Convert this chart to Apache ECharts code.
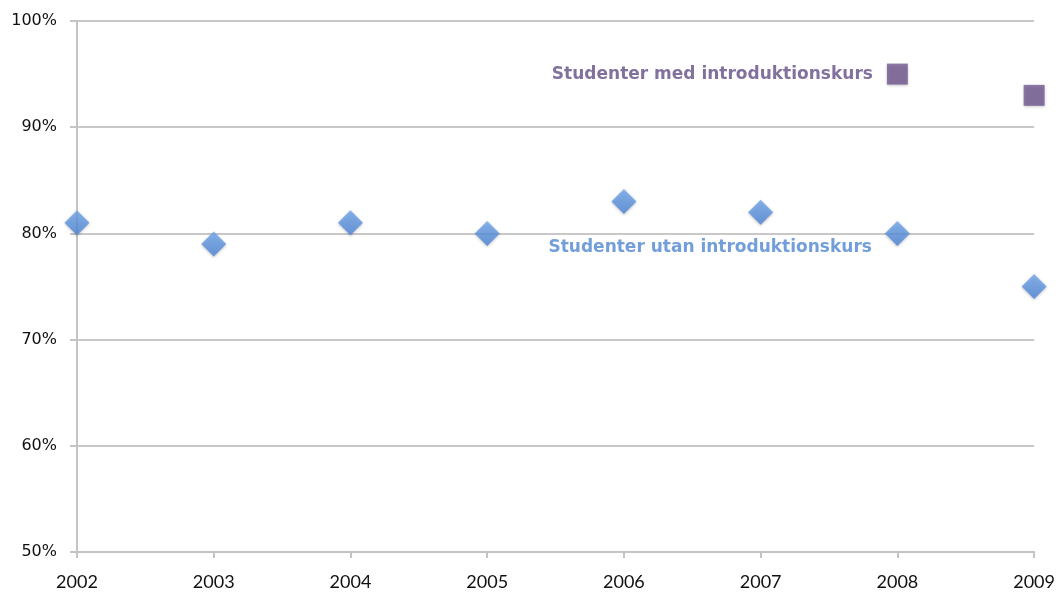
<!DOCTYPE html>
<html>
<head>
<meta charset="utf-8">
<script src="https://cdn.jsdelivr.net/npm/echarts@6/dist/echarts.min.js"></script>
<style>
  html, body { margin: 0; padding: 0; background: #fff; }
  #chart { width: 1058px; height: 592px; }
</style>
</head>
<body>
<div id="chart"></div>
<script>
var years = ['2002', '2003', '2004', '2005', '2006', '2007', '2008', '2009'];
// percent of students
var utanKurs = [81, 79, 81, 80, 83, 82, 80, 75];
var medKurs = [null, null, null, null, null, null, 95, 93];
var utanName = 'Studenter utan introduktionskurs';
var medName = 'Studenter med introduktionskurs';

var myChart = echarts.init(document.getElementById('chart'));

// label only the 2008 point of each series
function withLabel(values, idx, label) {
    return values.map(function (v, i) {
        if (i !== idx) return v;
        return { value: v, label: label };
    });
}

var option = {
    animation: false,
    grid: { left: 77, right: 22, top: 21, bottom: 40 },
    xAxis: {
        type: 'category',
        data: years,
        boundaryGap: false,
        axisLine: { lineStyle: { color: '#c4c4c4', width: 2 } },
        axisTick: { length: 6, lineStyle: { color: '#c4c4c4', width: 2 } },
        axisLabel: { margin: 21, fontFamily: 'Lato', fontSize: 18, color: '#111' },
        splitLine: { show: false }
    },
    yAxis: {
        type: 'value',
        min: 50,
        max: 100,
        interval: 10,
        axisLine: { show: true, lineStyle: { color: '#c4c4c4', width: 2 } },
        axisTick: { show: true, length: 7, lineStyle: { color: '#c4c4c4', width: 2 } },
        axisLabel: { formatter: '{value}%', margin: 20, fontFamily: 'DejaVu Sans', fontSize: 16, color: '#111' },
        splitLine: { lineStyle: { color: '#c8c8c8', width: 2 } }
    },
    series: [
        {
            name: utanName,
            type: 'scatter',
            symbol: 'diamond',
            symbolSize: 25,
            itemStyle: {
                color: new echarts.graphic.LinearGradient(0, 0, 0, 1, [
                    { offset: 0, color: '#72a7ee' },
                    { offset: 1, color: '#4a84d6' }
                ]),
                shadowColor: 'rgba(0,0,0,0.3)',
                shadowBlur: 3,
                shadowOffsetY: 1
            },
            data: withLabel(utanKurs, 6, {
                show: true,
                position: 'left',
                distance: 13,
                offset: [0, 14],
                formatter: utanName,
                fontFamily: 'DejaVu Sans',
                fontWeight: 'bold',
                fontSize: 17,
                color: '#4f86cf'
            })
        },
        {
            name: medName,
            type: 'scatter',
            symbol: 'rect',
            symbolSize: 21,
            itemStyle: {
                color: '#6f5790',
                shadowColor: 'rgba(0,0,0,0.3)',
                shadowBlur: 3,
                shadowOffsetY: 1
            },
            data: withLabel(medKurs, 6, {
                show: true,
                position: 'left',
                distance: 14,
                formatter: medName,
                fontFamily: 'DejaVu Sans',
                fontWeight: 'bold',
                fontSize: 17,
                color: '#634e83'
            })
        }
    ]
};

myChart.setOption(option);
</script>
</body>
</html>
